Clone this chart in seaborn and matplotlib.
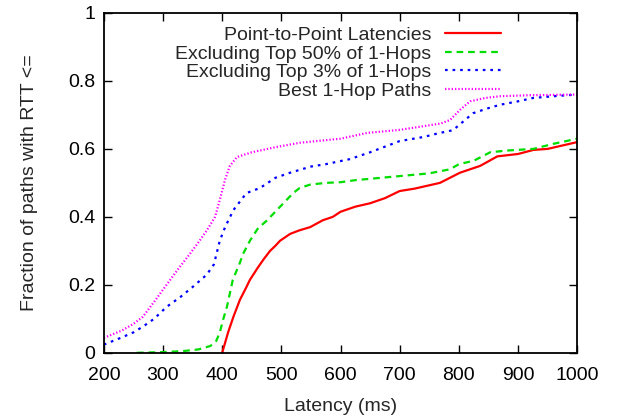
import pandas as pd
import seaborn as sns
import matplotlib.pyplot as plt

# CDF points (latency in ms, fraction of paths)
p2p_x = [400, 405, 410, 419, 430, 440, 447, 460, 470, 481, 490, 498, 515, 530,
         549, 570, 587, 600, 625, 650, 675, 700, 725, 768, 785, 802, 836, 865,
         900, 926, 950, 975, 1000]
p2p_y = [0, 0.03, 0.06, 0.106, 0.156, 0.19, 0.215, 0.25, 0.275, 0.30, 0.315,
         0.33, 0.35, 0.36, 0.37, 0.39, 0.40, 0.415, 0.43, 0.44, 0.455, 0.476,
         0.483, 0.50, 0.515, 0.53, 0.55, 0.578, 0.585, 0.597, 0.60, 0.61, 0.62]

top50_x = [256, 300, 334, 360, 380, 390, 396, 402, 408, 418, 430, 435, 447, 460,
           476, 498, 520, 531, 549, 575, 600, 625, 650, 700, 750, 785, 800, 825,
           853, 880, 926, 960, 1000]
top50_y = [0, 0.002, 0.005, 0.01, 0.02, 0.035, 0.06, 0.10, 0.135, 0.215, 0.265,
           0.29, 0.33, 0.365, 0.39, 0.43, 0.47, 0.485, 0.495, 0.50, 0.502, 0.508,
           0.512, 0.52, 0.528, 0.54, 0.555, 0.565, 0.59, 0.595, 0.60, 0.615, 0.63]

top3_x = [200, 230, 250, 266, 285, 306, 330, 351, 374, 386, 396, 405, 419, 441,
          464, 490, 515, 550, 575, 616, 650, 700, 740, 768, 790, 807, 824, 850,
          870, 900, 926, 960, 1000]
top3_y = [0.024, 0.045, 0.06, 0.077, 0.10, 0.135, 0.165, 0.195, 0.23, 0.26,
          0.33, 0.37, 0.42, 0.47, 0.485, 0.515, 0.53, 0.548, 0.555, 0.57, 0.59,
          0.623, 0.635, 0.647, 0.655, 0.68, 0.705, 0.72, 0.73, 0.74, 0.75,
          0.755, 0.76]

best_x = [200, 230, 250, 266, 285, 306, 325, 345, 362, 374, 388, 396, 405, 413,
          425, 450, 490, 531, 600, 645, 700, 734, 770, 785, 802, 819, 845, 870,
          920, 1000]
best_y = [0.044, 0.065, 0.085, 0.106, 0.15, 0.2, 0.245, 0.29, 0.33, 0.36, 0.40,
          0.45, 0.51, 0.55, 0.576, 0.59, 0.605, 0.618, 0.63, 0.647, 0.656,
          0.665, 0.675, 0.685, 0.715, 0.74, 0.75, 0.755, 0.758, 0.76]

series = [
    ("Point-to-Point Latencies", p2p_x, p2p_y, "#ff0000", "-"),
    ("Excluding Top 50% of 1-Hops", top50_x, top50_y, "#00dd00", (0, (3, 2.2))),
    ("Excluding Top 3% of 1-Hops", top3_x, top3_y, "#0000ff", (0, (1.2, 2.2))),
    ("Best 1-Hop Paths", best_x, best_y, "#ff00ff", (0, (0.6, 0.9))),
]

sns.set_style("ticks")
plt.rcParams["font.family"] = ["Liberation Sans", "DejaVu Sans"]

fig = plt.figure(figsize=(6.18, 4.18), dpi=100)
ax = fig.add_axes([0.168, 0.156, 0.766, 0.813])

for label, xs, ys, color, ls in series:
    df = pd.DataFrame({"latency": xs, "frac": ys})
    sns.lineplot(data=df, x="latency", y="frac", color=color, linestyle=ls,
                 linewidth=1.6, label=label, ax=ax, errorbar=None)

ax.set_xlim(200, 1000)
ax.set_ylim(0, 1)
ax.set_xticks(range(200, 1001, 100))
ax.set_yticks([0, 0.2, 0.4, 0.6, 0.8, 1])
ax.set_yticklabels(["0", "0.2", "0.4", "0.6", "0.8", "1"])
ax.tick_params(direction="in", length=6, width=1, top=True, right=True,
               labelsize=14, colors="black", pad=6)
ax.tick_params(axis="x", pad=10)
for sp in ax.spines.values():
    sp.set_visible(True)
    sp.set_linewidth(1.3)
    sp.set_color("black")

ax.set_xlabel("Latency (ms)", fontsize=14, labelpad=10)
ax.set_ylabel("Fraction of paths with RTT <=", fontsize=14, labelpad=22)

ax.legend(loc="upper right", bbox_to_anchor=(0.864, 0.995), frameon=False,
          markerfirst=False, fontsize=14, handlelength=2.9, labelspacing=0.05,
          handletextpad=0.7, borderaxespad=0.2)

fig.savefig("out.png", dpi=100)
